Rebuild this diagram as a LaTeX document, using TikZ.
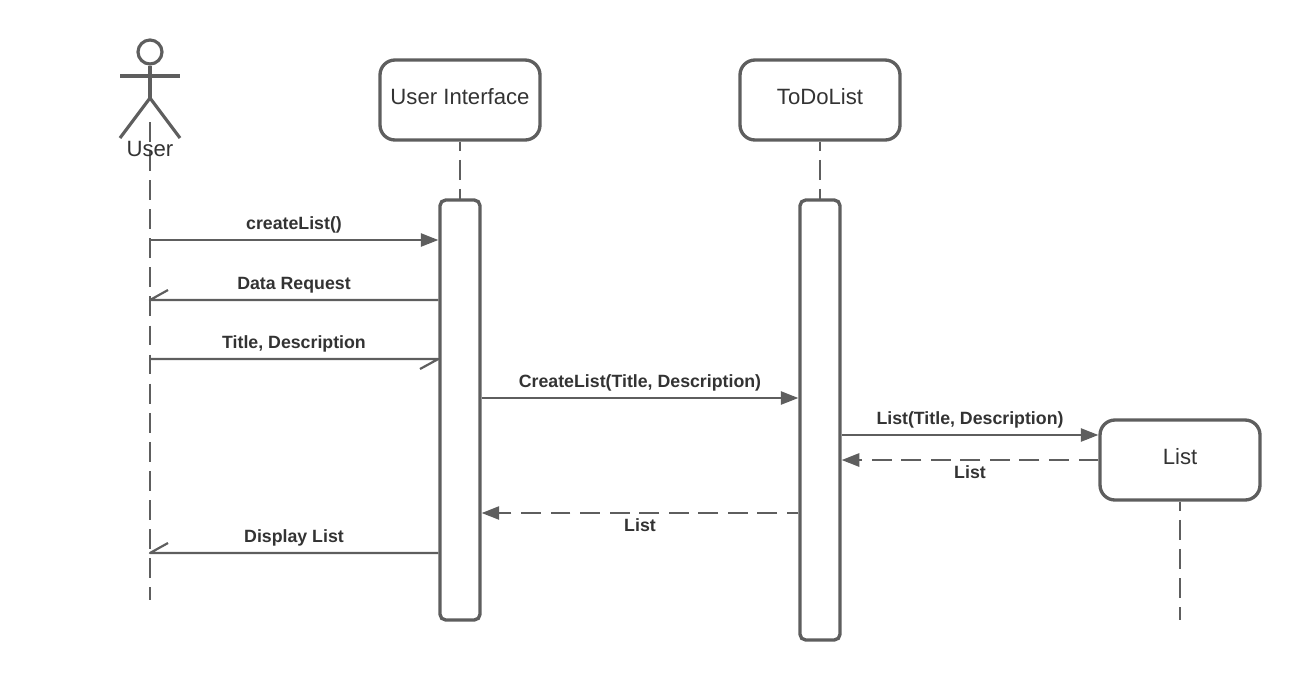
\documentclass[tikz,border=0pt]{standalone}
\usepackage{fontspec}
\setmainfont{Liberation Sans}
\usetikzlibrary{arrows.meta}
\definecolor{linegray}{HTML}{5E5E5E}
\definecolor{textgray}{HTML}{333333}
\tikzset{
	lifebox/.style={draw=linegray,line width=1.9pt,fill=white,rounded corners=8.5pt,minimum width=3.2cm,minimum height=1.6cm,inner sep=0pt,text=textgray,text depth=3.9pt,font=\fontsize{12.6}{15}\selectfont},
	activebox/.style={draw=linegray,line width=1.9pt,fill=white,rounded corners=3.2pt,minimum width=0.8cm,inner sep=0pt},
	lifeline/.style={draw=linegray,line width=1.15pt,dash pattern=on 11.3pt off 5.25pt},
	msg/.style={draw=linegray,line width=1.25pt,-{Triangle[length=10pt,width=7.5pt]}},
	reply/.style={msg,dash pattern=on 11.3pt off 5.5pt},
	openmsg/.style={draw=linegray,line width=1.25pt,line join=round},
	actorline/.style={draw=linegray,line width=1.8pt},
	msglabel/.style={text=textgray,font=\fontsize{10.1}{12}\selectfont\bfseries,inner sep=0pt},
}
\begin{document}
\begin{tikzpicture}[x=0.02cm,y=-0.02cm]
\useasboundingbox (0,0) rectangle (1300,680);

% lifelines first, the boxes sit on top
\coordinate (userlife) at (150,122);
\coordinate (userend) at (150,600);
\coordinate (listend) at (1180,620);
\coordinate (userhip) at (150,98);
\draw[lifeline] (userlife)--(userend);

\node[lifebox] (ui) at (460,100) {User Interface};
\node[lifebox] (todo) at (820,100) {ToDoList};
\node[lifebox] (list) at (1180,460) {List};

\draw[lifeline,dash phase=6.2pt] (ui.south)--(460,200);
\draw[lifeline,dash phase=6.2pt] (todo.south)--(820,200);
\draw[lifeline,dash phase=6.2pt] (list.south)--(listend);

\node[activebox,minimum height=8.4cm] (uibar) at (460,410) {};
\node[activebox,minimum height=8.8cm] (todobar) at (820,420) {};

% actor
\node[actorline,circle,minimum size=0.48cm,inner sep=0pt] (head) at (150,52) {};
\coordinate (armleft) at (120,76);
\coordinate (armright) at (180,76);
\coordinate (footleft) at (120,138);
\coordinate (footright) at (180,138);
\draw[actorline] (head.south)--(userhip);
\draw[actorline] (armleft)--(armright);
\draw[actorline] (footleft)--(userhip)--(footright);
\node[text=textgray,font=\fontsize{12.6}{15}\selectfont,inner sep=0pt] (usertext) at (150,148.5) {User};

% messages
\coordinate (m1) at (150,240);
\coordinate (m2) at (150,300);
\coordinate (m3) at (150,359);
\coordinate (m4) at (150,553);
\coordinate (b2) at (168,290);
\coordinate (b3) at (420,369);
\coordinate (b4) at (168,543);

\draw[msg] (m1)--(m1-|uibar.west);
\draw[openmsg] (m2-|uibar.west)--(m2)--(b2);
\draw[openmsg] (m3)--(m3-|uibar.west)--(b3);
\draw[openmsg] (m4-|uibar.west)--(m4)--(b4);

\coordinate (m5) at (480,398);
\coordinate (m6) at (840,435);
\coordinate (m7) at (840,460);
\coordinate (m8) at (480,513);
\draw[msg] (m5-|uibar.east)--(m5-|todobar.west);
\draw[msg] (m6-|todobar.east)--(m6-|list.west);
\draw[reply] (m7-|list.west)--(m7-|todobar.east);
\draw[reply,dash phase=4.7pt] (m8-|todobar.west)--(m8-|uibar.east);

\node[msglabel] (l1) at (294,225) {createList()};
\node[msglabel] (l2) at (294,285) {Data Request};
\node[msglabel] (l3) at (294,344) {Title, Description};
\node[msglabel] (l4) at (294,538) {Display List};
\node[msglabel] (l5) at (640,383) {CreateList(Title, Description)};
\node[msglabel] (l6) at (970,420) {List(Title, Description)};
\node[msglabel] (l7) at (970,472) {List};
\node[msglabel] (l8) at (640,525) {List};
\end{tikzpicture}
\end{document}
